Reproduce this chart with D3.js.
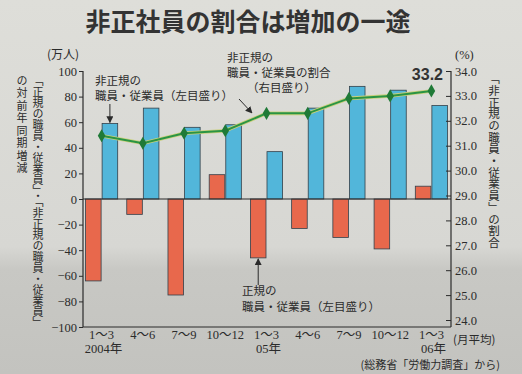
<!DOCTYPE html>
<html><head><meta charset="utf-8">
<script src="https://cdn.jsdelivr.net/npm/d3@7"></script>
<style>
body{margin:0;background:#d8d8d4;}
svg{display:block;}
</style></head>
<body>
<svg id="chart" width="522" height="374"></svg>
<script>
// ---- data ----
const categories = ["1〜3","4〜6","7〜9","10〜12","1〜3","4〜6","7〜9","10〜12","1〜3"];
const yearLabels = ["2004年","","","","05年","","","","06年"];
const nonRegularChange = [59, 71, 56, 58, 37, 71, 88, 85, 73];   // 万人 (blue)
const regularChange = [-64, -12, -75, 19, -46, -23, -30, -39, 10]; // 万人 (red)
const nonRegularShare = [31.4, 31.1, 31.5, 31.6, 32.3, 32.3, 32.9, 33.0, 33.2]; // %
const leftTicks = [100,80,60,40,20,0,-20,-40,-60,-80,-100];
const rightTicks = [34,33,32,31,30,29,28,27,26,25,24];

const svg = d3.select("#chart");
const JP = "'Noto Sans CJK JP','Noto Sans',sans-serif";
const NUM = "'Liberation Serif','Noto Sans CJK JP',serif";
const ink = "#2b2b2b";

// background (photo-like paper)
const defs = svg.append("defs");
const g0 = defs.append("linearGradient").attr("id","bg").attr("x1",0).attr("x2",0).attr("y1",0).attr("y2",1);
[[0,"#deded9"],[0.66,"#d7d7d3"],[0.72,"#c8c8c4"],[1,"#c3c3bf"]].forEach(([o,c])=>g0.append("stop").attr("offset",o).attr("stop-color",c));
svg.append("rect").attr("width",522).attr("height",374).attr("fill","url(#bg)");
defs.append("marker").attr("id","arr").attr("viewBox","0 0 10 10").attr("refX",9).attr("refY",5)
  .attr("markerWidth",7).attr("markerHeight",7).attr("orient","auto")
  .append("path").attr("d","M0,0L10,5L0,10z").attr("fill",ink);

const L = 83, R = 451, T = 71, B = 327;
const yL = d3.scaleLinear().domain([-100,100]).range([B,T]);
const yR = d3.scaleLinear().domain([24,34]).range([320,T]);
const x = d3.scaleBand().domain(d3.range(categories.length)).range([81,452]).paddingInner(0.22).paddingOuter(0.11);
const x1 = d3.scaleBand().domain(["reg","non"]).range([0,x.bandwidth()]).paddingInner(0.06);

// title
svg.append("text").attr("x",248).attr("y",31).attr("text-anchor","middle")
  .attr("font-family",JP).attr("font-weight","bold").attr("font-size",25).attr("fill","#333")
  .text("非正社員の割合は増加の一途");

// bars
const bars = svg.append("g").attr("stroke","#33404a").attr("stroke-width",0.8);
bars.selectAll(".reg").data(regularChange).join("rect")
  .attr("x",(d,i)=>x(i)+x1("reg")).attr("width",x1.bandwidth())
  .attr("y",d=>yL(Math.max(0,d))).attr("height",d=>Math.abs(yL(d)-yL(0)))
  .attr("fill","#e8684c");
bars.selectAll(".non").data(nonRegularChange).join("rect")
  .attr("x",(d,i)=>x(i)+x1("non")).attr("width",x1.bandwidth())
  .attr("y",d=>yL(Math.max(0,d))).attr("height",d=>Math.abs(yL(d)-yL(0)))
  .attr("fill","#52b6da");

// frame lines
svg.append("line").attr("x1",L).attr("x2",R).attr("y1",yL(0)).attr("y2",yL(0)).attr("stroke",ink).attr("stroke-width",1.2);
svg.append("line").attr("x1",L).attr("x2",R).attr("y1",B).attr("y2",B).attr("stroke",ink).attr("stroke-width",1.2);

// axes
const axL = svg.append("g").attr("transform",`translate(${L},0)`)
  .call(d3.axisLeft(yL).tickValues(leftTicks).tickSize(4).tickPadding(2).tickFormat(d3.format("d")));
const axR = svg.append("g").attr("transform",`translate(${R},0)`)
  .call(d3.axisRight(yR).tickValues(rightTicks).tickSizeInner(-5).tickSizeOuter(0).tickPadding(4).tickFormat(d3.format(".1f")));
[axL,axR].forEach(a=>{
  a.select(".domain").attr("stroke",ink).attr("stroke-width",1.2);
  a.selectAll(".tick line").attr("stroke",ink).attr("stroke-width",1);
  a.selectAll("text").attr("font-family",NUM).attr("font-size",12.5).attr("fill",ink);
});
axL.select(".domain").attr("d",`M0,${T}V${B}`);
axR.select(".domain").attr("d",`M0,${T}V${B}`);

// line
const line = d3.line().x((d,i)=>x(i)+x.bandwidth()/2).y(d=>yR(d));
svg.append("path").datum(nonRegularShare).attr("d",line).attr("fill","none")
  .attr("stroke","#c9d07a").attr("stroke-width",3.6);
svg.append("path").datum(nonRegularShare).attr("d",line).attr("fill","none")
  .attr("stroke","#2a9444").attr("stroke-width",2);
svg.selectAll(".pt").data(nonRegularShare).join("path")
  .attr("transform",(d,i)=>`translate(${x(i)+x.bandwidth()/2},${yR(d)})`)
  .attr("d",d3.symbol(d3.symbolDiamond,50)).attr("fill","#1f7a37");

// unit labels
svg.append("text").attr("x",47).attr("y",59).attr("font-family",JP).attr("font-size",12).attr("fill",ink).text("(万人)");
svg.append("text").attr("x",455).attr("y",59).attr("font-family",NUM).attr("font-size",12.5).attr("fill",ink).text("(%)");

// vertical axis titles
function vtext(xp,yp,str,fs,ls){
  svg.append("text").attr("x",xp).attr("y",yp).attr("font-family",JP).attr("font-size",fs)
    .attr("fill",ink).style("writing-mode","vertical-rl").style("letter-spacing",(ls||0)+"px").text(str);
}
vtext(38,75,"「正規の職員・従業員」・「非正規の職員・従業員」",11,0);
vtext(22,75,"の対前年同期増減",11,1.5);
vtext(494,73,"「非正規の職員・従業員」の割合",11.5,0.2);

// x labels
svg.selectAll(".xl").data(categories).join("text")
  .attr("x",(d,i)=>x(i)+x.bandwidth()/2).attr("y",339).attr("text-anchor","middle")
  .attr("font-family",NUM).attr("font-size",12.5).attr("fill",ink).text(d=>d);
svg.selectAll(".yl").data(yearLabels).join("text")
  .attr("x",(d,i)=>x(i)+x.bandwidth()/2+2).attr("y",353).attr("text-anchor","middle")
  .attr("font-family",NUM).attr("font-size",12.5).attr("fill",ink).text(d=>d);
svg.append("text").attr("x",453).attr("y",344).attr("font-family",JP).attr("font-size",11.5).attr("fill",ink).text("(月平均)");
svg.append("text").attr("x",500).attr("y",369).attr("text-anchor","end").attr("font-family",JP).attr("font-size",11).attr("fill",ink).text("(総務省「労働力調査」から)");

// annotations
function lines(xp,yp,arr,dy){
  arr.forEach((s,k)=>svg.append("text").attr("x",xp+(s.dx||0)).attr("y",yp+k*dy)
    .attr("font-family",JP).attr("font-size",11.5).attr("fill",ink).text(s.t));
}
lines(95,85,[{t:"非正規の"},{t:"職員・従業員（左目盛り）"}],15);
svg.append("line").attr("x1",x(0)+x1("non")+x1.bandwidth()/2).attr("x2",x(0)+x1("non")+x1.bandwidth()/2)
  .attr("y1",104).attr("y2",yL(nonRegularChange[0])-1).attr("stroke",ink).attr("stroke-width",1).attr("marker-end","url(#arr)");

lines(227,62,[{t:"非正規の"},{t:"職員・従業員の割合"},{t:"（右目盛り）",dx:20}],15);
svg.append("line").attr("x1",239).attr("y1",99).attr("x2",252).attr("y2",113)
  .attr("stroke",ink).attr("stroke-width",1).attr("marker-end","url(#arr)");

lines(242,295,[{t:"正規の"},{t:"職員・従業員（左目盛り）"}],16);
svg.append("line").attr("x1",x(4)+x1("reg")+x1.bandwidth()/2).attr("x2",x(4)+x1("reg")+x1.bandwidth()/2)
  .attr("y1",285).attr("y2",yL(regularChange[4])+1).attr("stroke",ink).attr("stroke-width",1).attr("marker-end","url(#arr)");

svg.append("text").attr("x",443).attr("y",80).attr("text-anchor","end")
  .attr("font-family","'Liberation Sans',Arial,sans-serif").attr("font-weight","bold").attr("font-size",16).attr("fill","#333")
  .text(nonRegularShare[8].toFixed(1));
</script>
</body></html>
